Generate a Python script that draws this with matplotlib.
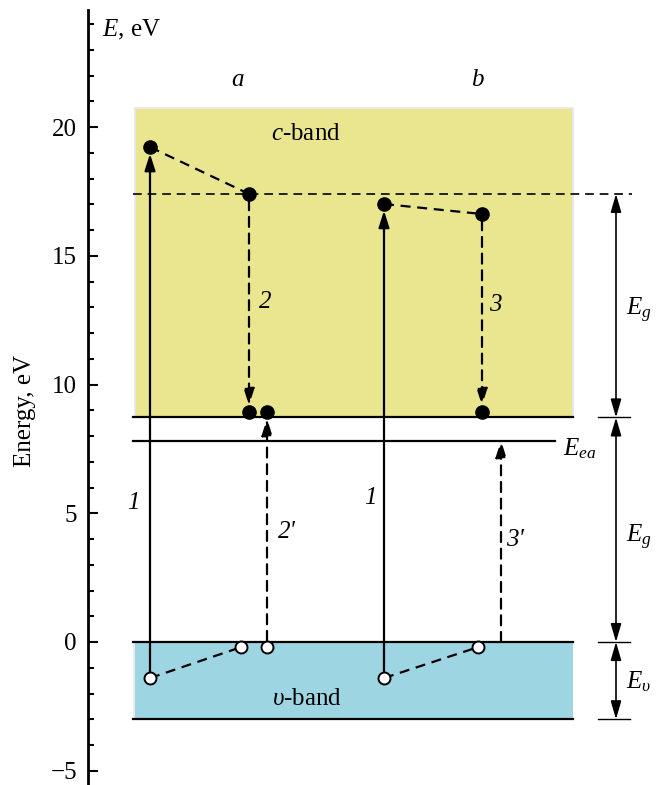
import matplotlib
matplotlib.use('Agg')
import matplotlib.pyplot as plt
from matplotlib.patches import Rectangle

plt.rcParams['font.family'] = ['Liberation Serif', 'DejaVu Serif']
plt.rcParams['mathtext.fontset'] = 'custom'
plt.rcParams['mathtext.rm'] = 'Liberation Serif'
plt.rcParams['mathtext.it'] = 'Liberation Serif:italic'
plt.rcParams['mathtext.bf'] = 'Liberation Serif:bold'

# ---------------- data (energies in eV) ----------------
y_major = [-5, 0, 5, 10, 15, 20]
y_minor = list(range(-5, 25))
c_band = [8.72, 20.74]          # conduction band bottom/top
v_band = [-3.0, 0.0]            # valence band bottom/top
E_ea = 7.82                     # electron-affinity level
E_hot = 17.40                   # dashed threshold level
# process a
a_elec = [19.22, 17.40, 8.93]   # electron: excited -> scattered -> relaxed
a_elec2 = [8.93]                # secondary electron
a_hole = [-1.40, -0.20]         # hole: created -> relaxed
a_hole2 = [-0.20]               # secondary hole
# process b
b_elec = [17.01, 16.62, 8.93]
b_hole = [-1.40, -0.20]

# ---------------- layout (pixels) ----------------
W, H = 664, 785
YPX0, PXPEV = 642.0, 25.75
AX_X = 88
BX0, BX1 = 135, 573
LX0 = 133
EEA_X1 = 555
DIM_X, DT0, DT1 = 616, 598, 630
HOT_X1 = 632
xa_exc, xa_rel, xa_e2, xa_h2, xa_h3 = 150, 249, 267, 241, 267
xb_exc, xb_rel, xb_h2, xb_3p = 384, 482, 478, 501

YELLOW = '#eae68f'
BLUE = '#9dd5e3'
FS = 18

def py(p):
    return (YPX0 - p) / PXPEV

fig = plt.figure(figsize=(W / 100, H / 100), dpi=100)
ax = fig.add_axes([0, 0, 1, 1])
ax.set_xlim(0, W)
ax.set_ylim(py(H), py(0))
for s in ['top', 'right', 'bottom']:
    ax.spines[s].set_visible(False)
ax.spines['left'].set_position(('data', AX_X))
ax.spines['left'].set_linewidth(2)
ax.spines['left'].set_bounds(py(H), py(10))
ax.set_xticks([])
ax.set_yticks(y_major)
ax.set_yticks(y_minor, minor=True)
ax.set_yticklabels([str(v).replace('-', '\u2212') for v in y_major])
ax.tick_params(axis='y', which='major', direction='in', length=7.5, width=1.5,
               labelsize=FS, pad=8)
ax.tick_params(axis='y', which='minor', direction='in', length=4.5, width=1.5)

# bands
ax.add_patch(Rectangle((BX0, c_band[0]), BX1 - BX0, c_band[1] - c_band[0],
                       fc=YELLOW, ec='#e6e6f0', lw=1.2, zorder=0))
ax.add_patch(Rectangle((BX0, v_band[0]), BX1 - BX0, v_band[1] - v_band[0],
                       fc=BLUE, ec='none', lw=0, zorder=0))
ax.plot([BX0 - 1, BX0 - 1], v_band, color='#e8e8e8', lw=1.2, zorder=0)

lw = 1.6
for yv in [c_band[0], v_band[1], v_band[0]]:
    ax.plot([LX0, BX1], [yv, yv], color='black', lw=lw, zorder=2)
ax.plot([LX0, EEA_X1], [E_ea, E_ea], color='black', lw=lw, zorder=2)
DASH = (0, (4.5, 3.0))
ax.plot([LX0, HOT_X1], [E_hot, E_hot], color='#222222', lw=1.4, ls=DASH, zorder=2)

def arrow(x0, y0, x1, y1, dashed=False, sA=0, sB=4.8):
    ax.annotate('', xy=(x1, y1), xytext=(x0, y0),
                arrowprops=dict(arrowstyle='-|>,head_length=0.5,head_width=0.16',
                                mutation_scale=20, color='black', lw=lw,
                                ls=DASH if dashed else '-',
                                shrinkA=sA, shrinkB=sB), zorder=3)

def dline(xs, ys):
    ax.plot(xs, ys, color='black', lw=lw, ls=DASH, zorder=3)

# process a
arrow(xa_exc, a_hole[0], xa_exc, a_elec[0])
dline([xa_exc, xa_rel], [a_elec[0], a_elec[1]])
arrow(xa_rel, a_elec[1], xa_rel, a_elec[2], dashed=True, sA=4.5)
dline([xa_exc, xa_h2], [a_hole[0], a_hole[1]])
arrow(xa_h3, a_hole2[0], xa_e2, a_elec2[0], dashed=True, sA=4.5)
# process b
arrow(xb_exc, b_hole[0], xb_exc, b_elec[0])
dline([xb_exc, xb_rel], [b_elec[0], b_elec[1]])
arrow(xb_rel, b_elec[1], xb_rel, b_elec[2], dashed=True, sA=4.5)
dline([xb_exc, xb_h2], [b_hole[0], b_hole[1]])
arrow(xb_3p, v_band[1], xb_3p, E_ea, dashed=True, sA=0, sB=0)

# markers
fx = [xa_exc, xa_rel, xa_rel, xa_e2, xb_exc, xb_rel, xb_rel]
fy = [a_elec[0], a_elec[1], a_elec[2], a_elec2[0], b_elec[0], b_elec[1], b_elec[2]]
ax.plot(fx, fy, 'o', color='black', ms=9.5, zorder=5)
ox = [xa_exc, xa_h2, xa_h3, xb_exc, xb_h2]
oy = [a_hole[0], a_hole[1], a_hole2[0], b_hole[0], b_hole[1]]
ax.plot(ox, oy, 'o', mfc='white', mec='black', mew=1.4, ms=8.6, zorder=5)

# dimension arrows
def dim(y0, y1):
    ax.annotate('', xy=(DIM_X, y1), xytext=(DIM_X, y0),
                arrowprops=dict(arrowstyle='<|-|>,head_length=0.55,head_width=0.16',
                                mutation_scale=20, color='black', lw=1.2,
                                shrinkA=0, shrinkB=0), zorder=3)
dim(E_hot, c_band[0])
dim(c_band[0], v_band[1])
dim(v_band[1], v_band[0])
for yv in [c_band[0], v_band[1], v_band[0]]:
    ax.plot([DT0, DT1], [yv, yv], color='black', lw=1.0, zorder=3)

# texts
ax.text(102, py(30), r'$E$, eV', fontsize=FS, ha='left', va='center')
fig.text(25 / W, 1 - 411 / H, 'Energy, eV', rotation=90, fontsize=18,
         ha='center', va='center')
ax.text(238, py(80), 'a', style='italic', fontsize=FS, ha='center', va='center')
ax.text(477, py(80), 'b', style='italic', fontsize=FS, ha='center', va='center')
ax.text(306, py(134), r'$c$-band', fontsize=FS, ha='center', va='center')
ax.text(307, py(699), r'$\upsilon$-band', fontsize=FS, ha='center', va='center')
for x, y, s in [(133, 503, '1'), (370, 498, '1'), (265, 302, '2'), (495, 305, '3'),
                (287, 532, "2'"), (515, 540, "3'")]:
    ax.text(x, py(y), s, style='italic', fontsize=FS, ha='center', va='center')
ax.text(626, py(310), r'$E_g$', fontsize=FS, ha='left', va='center')
ax.text(626, py(537), r'$E_g$', fontsize=FS, ha='left', va='center')
ax.text(626, py(682), r'$E_\upsilon$', fontsize=FS, ha='left', va='center')
ax.text(563, py(449), r'$E_{ea}$', fontsize=FS, ha='left', va='center')

fig.savefig('out.png', dpi=100)
